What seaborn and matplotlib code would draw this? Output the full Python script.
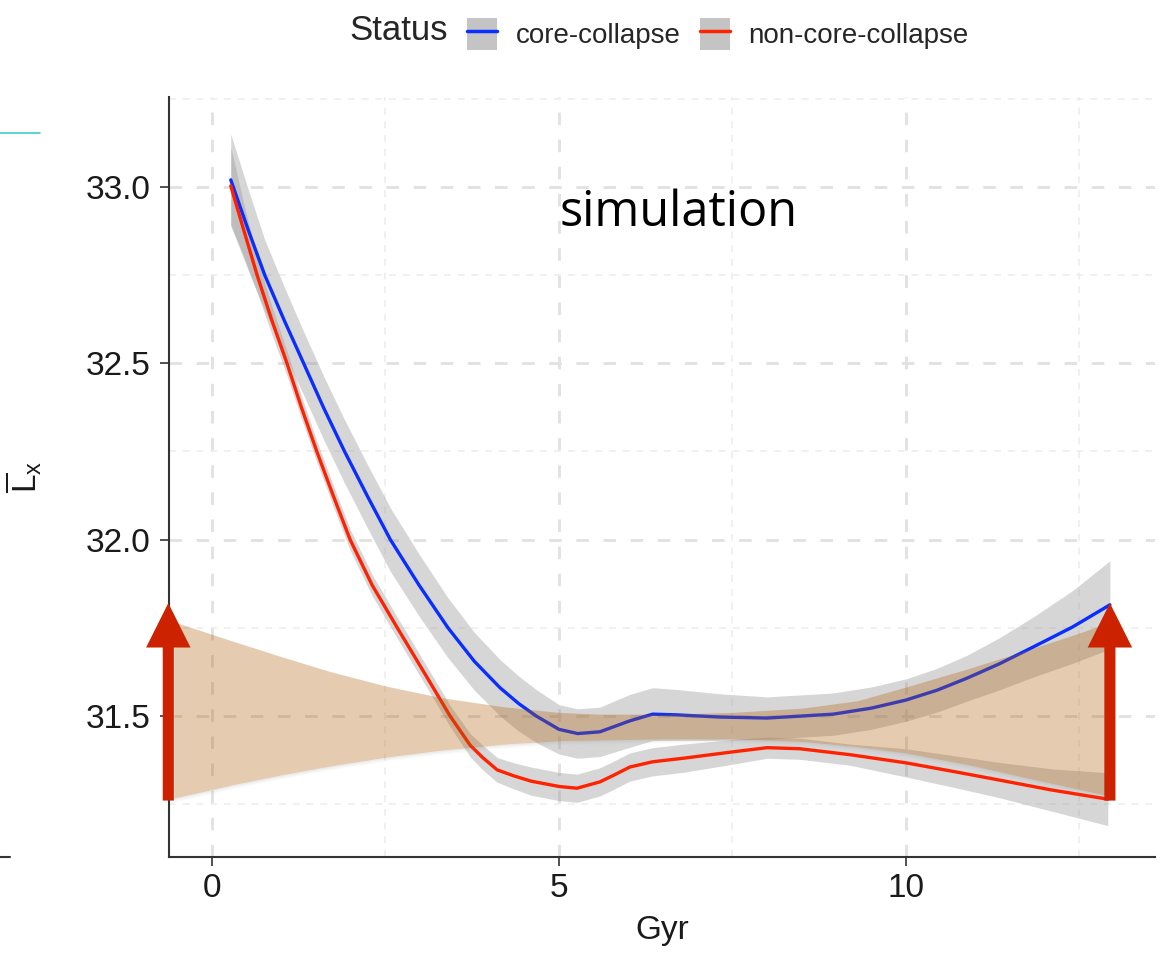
import numpy as np
import pandas as pd
import matplotlib
matplotlib.use("Agg")
import matplotlib.pyplot as plt
from matplotlib.patches import Rectangle
from matplotlib.lines import Line2D
from matplotlib import font_manager
import seaborn as sns

# ---------------- data ----------------
status_labels = ["core-collapse", "non-core-collapse"]

cc_gyr = [0.27, 0.52, 0.76, 1.04, 1.32, 1.61, 1.91, 2.24, 2.57, 2.98, 3.40, 3.78,
          4.15, 4.42, 4.67, 5.0, 5.27, 5.59, 6.02, 6.35, 6.7, 7.3, 8.0, 8.95, 9.5,
          10.0, 10.45, 10.88, 11.35, 11.83, 12.4, 12.94]
cc_lx = [33.02, 32.879, 32.75, 32.622, 32.50, 32.373, 32.25, 32.123, 32.00, 31.872,
         31.75, 31.655, 31.58, 31.535, 31.50, 31.462, 31.45, 31.455, 31.486, 31.505,
         31.503, 31.497, 31.494, 31.505, 31.522, 31.545, 31.573, 31.607, 31.648,
         31.695, 31.752, 31.815]
cc_ci = [0.13, 0.115, 0.10, 0.095, 0.09, 0.09, 0.09, 0.09, 0.09, 0.088, 0.085, 0.082,
         0.08, 0.078, 0.075, 0.07, 0.07, 0.07, 0.075, 0.075, 0.072, 0.066, 0.06, 0.06,
         0.06, 0.06, 0.062, 0.065, 0.074, 0.085, 0.103, 0.125]

ncc_gyr = [0.27, 0.46, 0.65, 0.86, 1.08, 1.29, 1.51, 1.75, 1.99, 2.31, 2.67, 3.03,
           3.43, 3.72, 3.9, 4.11, 4.35, 4.6, 5.0, 5.26, 5.59, 5.8, 6.02, 6.35, 6.79,
           7.5, 8.0, 8.47, 9.2, 10.0, 10.7, 11.35, 12.1, 12.91]
ncc_lx = [33.003, 32.876, 32.75, 32.623, 32.50, 32.374, 32.25, 32.123, 32.00, 31.87,
          31.75, 31.632, 31.50, 31.417, 31.382, 31.347, 31.33, 31.315, 31.30, 31.295,
          31.313, 31.333, 31.355, 31.37, 31.38, 31.398, 31.41, 31.407, 31.39, 31.367,
          31.342, 31.318, 31.29, 31.264]
ncc_ci = [0.11, 0.075, 0.05, 0.04, 0.035, 0.032, 0.03, 0.03, 0.03, 0.03, 0.03, 0.03,
          0.03, 0.033, 0.035, 0.035, 0.037, 0.04, 0.04, 0.04, 0.04, 0.04, 0.04, 0.04,
          0.04, 0.035, 0.03, 0.03, 0.03, 0.04, 0.045, 0.05, 0.06, 0.075]

obs_gyr = [-0.55, 0.3, 1.0, 1.7, 2.5, 3.3, 4.2, 5.0, 5.6, 6.5, 7.5, 8.5, 9.3, 10.0,
           10.9, 11.8, 12.5, 13.0]
obs_upper = [31.767, 31.712, 31.668, 31.626, 31.585, 31.552, 31.526, 31.51, 31.505,
             31.505, 31.51, 31.522, 31.543, 31.582, 31.634, 31.69, 31.735, 31.77]
obs_lower = [31.267, 31.305, 31.333, 31.358, 31.383, 31.403, 31.42, 31.43, 31.432,
             31.435, 31.435, 31.428, 31.413, 31.395, 31.362, 31.322, 31.292, 31.27]

arrow_gyr = [-0.63, 12.94]
arrow_from = [31.26, 31.26]
arrow_to = [31.82, 31.82]

x_ticks = [0, 5, 10]
y_ticks = [31.5, 32.0, 32.5, 33.0]
y_ticklabels = ["31.5", "32.0", "32.5", "33.0"]

# ---------------- style ----------------
sns.set_theme(style="white")
plt.rcParams["font.family"] = ["Liberation Sans", "DejaVu Sans"]
plt.rcParams["mathtext.default"] = "regular"

colors = {"core-collapse": "#0A2EFF", "non-core-collapse": "#FF2200"}

def has_font(name):
    try:
        font_manager.findfont(name, fallback_to_default=False)
        return True
    except Exception:
        return False

narrow = "Liberation Sans Narrow" if has_font("Liberation Sans Narrow") else "Liberation Sans"

fig = plt.figure(figsize=(11.75, 9.64), dpi=100)
ax = fig.add_axes([169 / 1175, 1 - 857 / 964, (1155 - 169) / 1175, (857 - 97) / 964])

df = pd.concat([
    pd.DataFrame({"Gyr": cc_gyr, "Lx": cc_lx, "ci": cc_ci, "Status": status_labels[0]}),
    pd.DataFrame({"Gyr": ncc_gyr, "Lx": ncc_lx, "ci": ncc_ci, "Status": status_labels[1]}),
], ignore_index=True)

# grey confidence bands
for st in status_labels:
    sub = df[df["Status"] == st]
    ax.fill_between(sub["Gyr"], sub["Lx"] - sub["ci"], sub["Lx"] + sub["ci"],
                    color="#999999", alpha=0.4, lw=0, zorder=2)

sns.lineplot(data=df, x="Gyr", y="Lx", hue="Status", palette=colors,
             estimator=None, sort=True, lw=2.4, legend=False, ax=ax, zorder=3)

# observation band (drawn on top, translucent)
ob_x = np.array(obs_gyr)
ob_lo = np.array(obs_lower)
for k, a in zip([0.004, 0.008, 0.012], [0.08, 0.05, 0.03]):
    ax.fill_between(ob_x, ob_lo - k, ob_lo, color="#888888", alpha=a, lw=0, zorder=4)
ax.fill_between(ob_x, obs_lower, obs_upper, color="#AF5E09", alpha=0.32, lw=0, zorder=4)

# arrows
for gx, y0, y1 in zip(arrow_gyr, arrow_from, arrow_to):
    ax.annotate("", xy=(gx, y1), xytext=(gx, y0),
                arrowprops=dict(arrowstyle="simple,head_length=32,head_width=32,tail_width=8",
                                mutation_scale=1, color="#CC2200", lw=0,
                                shrinkA=0, shrinkB=0),
                zorder=6, annotation_clip=False)

ax.text(5.01, 32.89, "simulation", fontsize=35, family=["Open Sans", "DejaVu Sans"],
        ha="left", va="baseline", color="black", zorder=5)

# axes styling
ax.set_xlim(-0.62, 13.59)
ax.set_ylim(31.10, 33.255)
ax.set_xticks(x_ticks)
ax.set_xticks([2.5, 7.5, 12.5], minor=True)
ax.set_yticks(y_ticks)
ax.set_yticklabels(y_ticklabels)
ax.set_yticks([31.25, 31.75, 32.25, 32.75, 33.25], minor=True)
ax.grid(True, which="major", color="#E2E2E2", lw=2.1, linestyle=(0, (4.3, 5.0)), zorder=0)
ax.grid(True, which="minor", color="#ECECEC", lw=1.1, linestyle=(0, (4.5, 4.5)), zorder=0)
ax.set_axisbelow(True)
for s in ["top", "right"]:
    ax.spines[s].set_visible(False)
for s in ["left", "bottom"]:
    ax.spines[s].set_color("#333333")
    ax.spines[s].set_linewidth(1.5)
ax.tick_params(axis="both", which="major", length=6.5, width=1.2, color="#333333",
               direction="out", bottom=True, left=True)
ax.tick_params(axis="both", which="minor", length=0)
ax.tick_params(axis="y", labelsize=24, pad=7, labelcolor="#1a1a1a")
ax.tick_params(axis="x", labelsize=24, pad=5, labelcolor="#1a1a1a")
for lab in ax.get_xticklabels():
    lab.set_family([narrow, "DejaVu Sans"])

ax.set_xlabel("Gyr", fontsize=24, family=[narrow, "DejaVu Sans"], labelpad=8, color="#1a1a1a")
ax.set_ylabel(r"$\overline{L}_x$", fontsize=24, labelpad=30, color="#1a1a1a")

# legend
fig.text(349 / 1175, 1 - 31 / 964, "Status", fontsize=25, va="center", ha="left")
handles = [(Rectangle((0, 0), 1, 1, facecolor="#C4C4C4", edgecolor="none"),
            Line2D([], [], color=colors[s], lw=2.5)) for s in status_labels]
fig.legend(handles, status_labels, loc="center left", bbox_to_anchor=(467 / 1175, 1 - 34 / 964),
           ncol=2, frameon=False, fontsize=20, borderpad=0, borderaxespad=0,
           handlelength=1.08, handleheight=1.4, handletextpad=0.68, columnspacing=0.68)

# cropping artefacts from neighbouring panel
fig.add_artist(Line2D([0, 40 / 1175], [1 - 133 / 964] * 2, color="#3CCFCF", lw=1.2))
fig.add_artist(Line2D([0, 10 / 1175], [1 - 857 / 964] * 2, color="#333333", lw=1.5))

fig.savefig("out.png", dpi=100)
